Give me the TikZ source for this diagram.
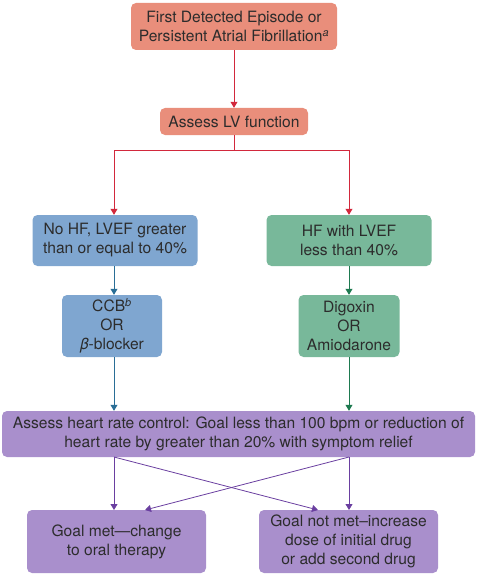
\documentclass[tikz,border=0pt]{standalone}
\usepackage{fontspec}
\setmainfont{TeX Gyre Heros}
\usetikzlibrary{arrows.meta}
\definecolor{salmon}{HTML}{E98E7B}
\definecolor{lvblue}{HTML}{7FA6D0}
\definecolor{lvgreen}{HTML}{78B89A}
\definecolor{lilac}{HTML}{A98FCC}
\definecolor{redline}{HTML}{D2283C}
\definecolor{blueline}{HTML}{2A6E96}
\definecolor{greenline}{HTML}{1E7A50}
\definecolor{purpleline}{HTML}{6A3FA0}
\definecolor{boxtext}{HTML}{2C2C2C}

\begin{document}
\begin{tikzpicture}[x=1pt, y=-1pt,
    box/.style={rectangle, rounded corners=5pt, align=center, inner sep=0pt, text=boxtext,
                font=\fontsize{15.6}{19}\selectfont},
    arr/.style={line width=0.8pt, -{Triangle[width=7pt,length=6pt]}}]
    \useasboundingbox (0,0) rectangle (487,575);

    % Assessment
    \node[box, fill=salmon, minimum width=206pt, minimum height=47pt] (first) at (234,26.5)
        {First Detected Episode or\\Persistent Atrial Fibrillation\textsuperscript{\textit{a}}};
    \node[box, fill=salmon, minimum width=148pt, minimum height=27pt] (lv) at (234,121.5) {Assess LV function};

    % LV branches
    \node[box, fill=lvblue, minimum width=165pt, minimum height=51pt] (nohf) at (115,240.5)
        {No HF, LVEF greater\\than or equal to 40\%};
    \node[box, fill=lvgreen, minimum width=165pt, minimum height=51pt] (hf) at (349,240.5)
        {HF with LVEF\\less than 40\%};
    \node[box, fill=lvblue, minimum width=100pt, minimum height=62pt] (ccb) at (112,326)
        {CCB\textsuperscript{\textit{b}}\\OR\\\textit{β}-blocker};
    \node[box, fill=lvgreen, minimum width=101pt, minimum height=62pt] (dig) at (349,326)
        {Digoxin\\OR\\Amiodarone};

    % Rate control
    \node[box, fill=lilac, minimum width=473pt, minimum height=46pt] (rate) at (238.5,434)
        {Assess heart rate control: Goal less than 100 bpm or reduction of\\heart rate by greater than 20\% with symptom relief};
    \node[box, fill=lilac, minimum width=179pt, minimum height=63pt] (met) at (116.5,541.5)
        {Goal met—change\\to oral therapy};
    \node[box, fill=lilac, minimum width=179pt, minimum height=63pt] (notmet) at (348.5,541.5)
        {Goal not met–increase\\dose of initial drug\\or add second drug};

    \coordinate (split) at (234,150);
    \coordinate (ratel) at (114,457);
    \coordinate (rater) at (349,457);
    \coordinate (metl) at (114,510);
    \coordinate (metr) at (145,510);
    \coordinate (notmetl) at (318,510);
    \coordinate (notmetr) at (349,510);

    \draw[arr, redline] (first) -- (lv);
    \draw[arr, redline] (lv.south) -- (split) -| (nohf.north -| ratel);
    \draw[arr, redline] (split) -| (hf.north);
    \draw[arr, blueline] (nohf.south -| ratel) -- (ccb.north -| ratel);
    \draw[arr, blueline] (ccb.south -| ratel) -- (rate.north -| ratel);
    \draw[arr, greenline] (hf.south) -- (dig.north);
    \draw[arr, greenline] (dig.south) -- (rate.north -| dig);
    \draw[arr, purpleline] (ratel) -- (metl);
    \draw[arr, purpleline] (ratel) -- (notmetl);
    \draw[arr, purpleline] (rater) -- (notmetr);
    \draw[arr, purpleline] (rater) -- (metr);
\end{tikzpicture}
\end{document}
